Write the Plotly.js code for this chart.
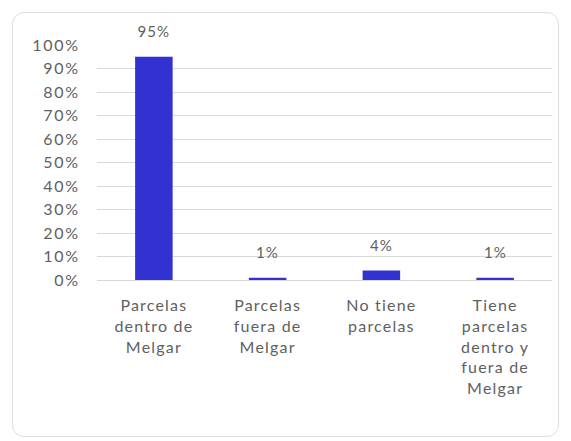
<!DOCTYPE html>
<html>
<head>
<meta charset="utf-8">
<script src="https://cdn.plot.ly/plotly-3.0.1.min.js"></script>
<style>
  body { margin: 0; background: #fff; }
  #wrap { position: relative; width: 571px; height: 441px; }
  #chart { position: absolute; left: 0; top: 0; width: 571px; height: 441px; }
  #chart .xtick text { letter-spacing: 1.2px; }
  #chart .ytick text { letter-spacing: 1.8px; }
  #chart .annotation-text { letter-spacing: 1px; }
  #frame { position: absolute; left: 12px; top: 12px; width: 545px; height: 423px;
           border: 1px solid #dedede; border-radius: 12px; pointer-events: none; }
</style>
</head>
<body>
<div id="wrap">
  <div id="chart"></div>
  <div id="frame"></div>
</div>
<script>
const categories = [
  "Parcelas<br>dentro de<br>Melgar",
  "Parcelas<br>fuera de<br>Melgar",
  "No tiene<br>parcelas",
  "Tiene<br>parcelas<br>dentro y<br>fuera de<br>Melgar"
];
const values = [0.95, 0.01, 0.04, 0.01];
const valueLabels = ["95%", "1%", "4%", "1%"];
const yTickValues = [0, 0.1, 0.2, 0.3, 0.4, 0.5, 0.6, 0.7, 0.8, 0.9, 1.0];
const yTickLabels = ["0%", "10%", "20%", "30%", "40%", "50%", "60%", "70%", "80%", "90%", "100%"];

const textColor = "#5f5f5f";
const fontFamily = "Lato, 'Open Sans', sans-serif";

const trace = {
  type: "bar",
  x: categories,
  y: values,
  marker: { color: "#3232D2" },
  width: 0.33,
  hoverinfo: "none"
};

const annotations = categories.map((c, i) => ({
  x: c, y: values[i], xref: "x", yref: "y",
  text: valueLabels[i], showarrow: false,
  yanchor: "bottom", yshift: 15,
  font: { family: fontFamily, size: 15, color: textColor }
}));

const layout = {
  width: 571, height: 441,
  margin: { l: 97, r: 19, t: 45, b: 161 },
  paper_bgcolor: "rgba(0,0,0,0)",
  plot_bgcolor: "rgba(0,0,0,0)",
  showlegend: false,
  bargap: 0.67,
  font: { family: fontFamily, color: textColor },
  xaxis: {
    type: "category",
    showgrid: false,
    showline: false,
    zeroline: false,
    ticks: "",
    ticklabelstandoff: 14,
    tickfont: { family: fontFamily, size: 16, color: textColor }
  },
  yaxis: {
    range: [0, 1],
    tickvals: yTickValues,
    ticktext: yTickLabels,
    showgrid: true,
    gridcolor: "#d9d9d9",
    gridwidth: 1,
    zeroline: true,
    zerolinecolor: "#d9d9d9",
    zerolinewidth: 1,
    showline: false,
    ticks: "",
    ticklabelstandoff: 16,
    tickfont: { family: fontFamily, size: 16, color: textColor }
  },
  annotations: annotations
};

Plotly.newPlot("chart", [trace], layout, { displayModeBar: false, staticPlot: true });
</script>
</body>
</html>
